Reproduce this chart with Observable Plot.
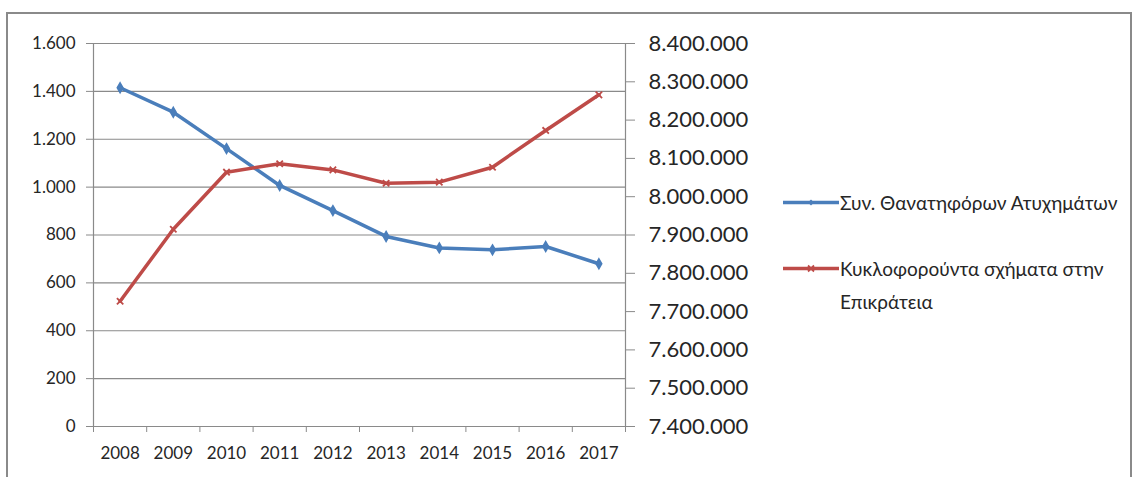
<!DOCTYPE html>
<html>
<head>
<meta charset="utf-8">
<script src="https://cdn.jsdelivr.net/npm/d3@7"></script>
<script src="https://cdn.jsdelivr.net/npm/@observablehq/plot@0.6"></script>
<style>
  html, body { margin: 0; padding: 0; background: #fff; }
  body { width: 1137px; height: 477px; position: relative; overflow: hidden; font-family: Lato, "Open Sans", sans-serif; }
  #frame { position: absolute; left: 6px; top: 12px; width: 1126px; height: 480px; border: 2px solid #8a8a8a; box-sizing: border-box; }
  #chart { position: absolute; left: 0; top: 0; }
  #legend { position: absolute; left: 783px; top: 0; width: 354px; height: 477px; }
  .item { position: absolute; left: 0; display: flex; align-items: flex-start; }
  .item svg { flex: none; }
  .label { font-size: 19px; color: #262626; line-height: 33px; margin-left: 1px; width: 290px; }
</style>
</head>
<body>
<div id="frame"></div>
<div id="chart"></div>
<div id="legend"></div>
<script>
// ---- data ----
const years = [2008, 2009, 2010, 2011, 2012, 2013, 2014, 2015, 2016, 2017];
const fatalAccidents = [1415, 1313, 1161, 1007, 902, 794, 746, 738, 752, 680];
const vehicles = [7727000, 7915000, 8064000, 8086000, 8070000, 8035000, 8038000, 8077000, 8173000, 8266000];
const leftTicks = [0, 200, 400, 600, 800, 1000, 1200, 1400, 1600];
const rightTicks = [7400000, 7500000, 7600000, 7700000, 7800000, 7900000, 8000000, 8100000, 8200000, 8300000, 8400000];
const seriesNames = ["Συν. Θανατηφόρων Ατυχημάτων", "Κυκλοφορούντα σχήματα στην Επικράτεια"];
const seriesColors = ["#4a7ebb", "#be4b48"];

// ---- helpers ----
const leftMin = leftTicks[0], leftMax = leftTicks[leftTicks.length - 1];
const rightMin = rightTicks[0], rightMax = rightTicks[rightTicks.length - 1];
const toLeft = v => leftMin + (v - rightMin) / (rightMax - rightMin) * (leftMax - leftMin);
const fromLeft = d => rightMin + (d - leftMin) / (leftMax - leftMin) * (rightMax - rightMin);
const fmt = d3.formatLocale({decimal: ",", thousands: ".", grouping: [3], currency: ["", "€"]}).format(",d");

const blue = years.map((year, i) => ({year, value: fatalAccidents[i]}));
const red = years.map((year, i) => ({year, value: toLeft(vehicles[i])}));
const bounds = years.map(y => y - 0.5).concat([years[years.length - 1] + 0.5]);

const chart = Plot.plot({
  width: 780,
  height: 477,
  marginLeft: 93,
  marginRight: 155,
  marginTop: 43,
  marginBottom: 51,
  style: {fontFamily: "Lato, 'Open Sans', sans-serif", background: "transparent", color: "#262626"},
  x: {type: "linear", domain: [bounds[0], bounds[bounds.length - 1]], axis: null, label: null},
  y: {domain: [leftMin, leftMax], axis: null, label: null},
  marks: [
    Plot.ruleY(leftTicks.filter(t => t > leftMin), {stroke: "#8a8a8a", strokeWidth: 1.2}),
    Plot.ruleY([leftMin], {stroke: "#8a8a8a", strokeWidth: 1.2}),
    Plot.ruleX([bounds[0], bounds[bounds.length - 1]], {stroke: "#8a8a8a", strokeWidth: 1.2}),
    Plot.axisY({anchor: "left", label: null, ticks: leftTicks, tickFormat: fmt, tickSize: 7, tickPadding: 11, stroke: "#8a8a8a", fill: "#262626", fontSize: 17}),
    Plot.axisY({anchor: "right", label: null, ticks: rightTicks.map(toLeft), tickFormat: d => fmt(Math.round(fromLeft(d))), tickSize: 9, tickPadding: 14, stroke: "#8a8a8a", fill: "#262626", fontSize: 22}),
    Plot.axisX({label: null, ticks: bounds, tickSize: 6, tickFormat: () => "", stroke: "#8a8a8a"}),
    Plot.axisX({label: null, ticks: years, tickSize: 0, tickPadding: 20, tickFormat: d => String(d), fill: "#262626", fontSize: 17}),
    Plot.line(blue, {x: "year", y: "value", stroke: seriesColors[0], strokeWidth: 3.5}),
    Plot.dot(blue, {x: "year", y: "value", symbol: "diamond", r: 3, fill: seriesColors[0], stroke: seriesColors[0]}),
    Plot.line(red, {x: "year", y: "value", stroke: seriesColors[1], strokeWidth: 3.5}),
    Plot.dot(red, {x: "year", y: "value", symbol: "times", r: 3, stroke: seriesColors[1], strokeWidth: 1.8})
  ]
});
document.getElementById("chart").appendChild(chart);

// ---- legend ----
const legend = document.getElementById("legend");
const tops = [186, 252];
seriesNames.forEach((name, i) => {
  const item = document.createElement("div");
  item.className = "item";
  item.style.top = tops[i] + "px";
  const sw = `<svg width="56" height="33"><line x1="0" x2="56" y1="16.5" y2="16.5" stroke="${seriesColors[i]}" stroke-width="3.5"/>` +
    (i === 0 ? `<path d="M28,13.5L31,16.5L28,19.5L25,16.5Z" fill="${seriesColors[i]}"/>`
             : `<path d="M25,13.5L31,19.5M31,13.5L25,19.5" stroke="${seriesColors[i]}" stroke-width="1.8"/>`) + `</svg>`;
  item.innerHTML = sw + `<div class="label">${name}</div>`;
  legend.appendChild(item);
});
</script>
</body>
</html>
